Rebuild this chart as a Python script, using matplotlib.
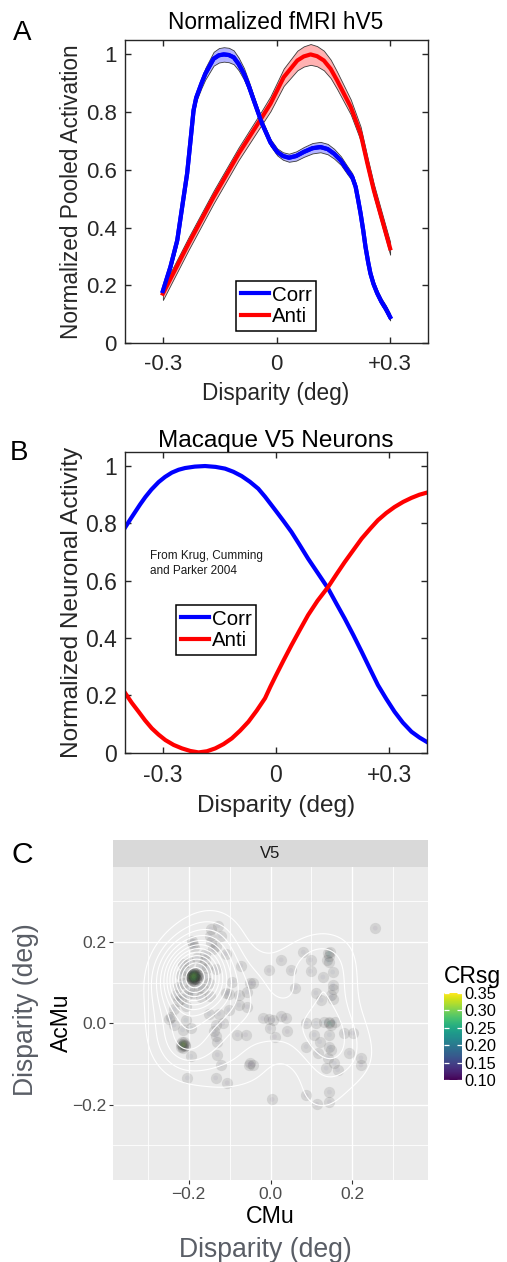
import numpy as np
import matplotlib
matplotlib.use("Agg")
import matplotlib.pyplot as plt
from matplotlib.cm import ScalarMappable
from matplotlib.colors import Normalize

plt.rcParams['font.family'] = ['Liberation Sans', 'DejaVu Sans']

# ---------------- Panel A data: Normalized fMRI hV5 ----------------
a_corr_x = [-0.30, -0.28, -0.262, -0.249, -0.236, -0.227, -0.219, -0.212, -0.205, -0.198,
            -0.188, -0.166, -0.152, -0.139, -0.126, -0.113, -0.10, -0.086, -0.073, -0.06,
            -0.038, -0.016, 0.002, 0.017, 0.033, 0.052, 0.072, 0.095, 0.116, 0.135,
            0.152, 0.17, 0.187, 0.20, 0.209, 0.215, 0.222, 0.229, 0.235, 0.242,
            0.248, 0.256, 0.266, 0.277, 0.288, 0.30]
a_corr_y = [0.18, 0.264, 0.356, 0.472, 0.587, 0.702, 0.806, 0.850, 0.875, 0.900,
            0.933, 0.985, 0.997, 1.0, 0.998, 0.99, 0.967, 0.933, 0.89, 0.841,
            0.76, 0.695, 0.662, 0.648, 0.642, 0.648, 0.662, 0.675, 0.679, 0.672,
            0.656, 0.632, 0.599, 0.575, 0.541, 0.50, 0.449, 0.39, 0.333, 0.28,
            0.241, 0.205, 0.172, 0.143, 0.12, 0.09]
a_corr_err = [0.012, 0.012, 0.012, 0.012, 0.012, 0.012, 0.012, 0.013, 0.014, 0.016,
              0.02, 0.024, 0.025, 0.025, 0.025, 0.024, 0.022, 0.02, 0.017, 0.015,
              0.013, 0.012, 0.012, 0.013, 0.014, 0.016, 0.017, 0.018, 0.018, 0.018,
              0.017, 0.015, 0.014, 0.013, 0.012, 0.012, 0.012, 0.012, 0.012, 0.012,
              0.012, 0.012, 0.012, 0.012, 0.012, 0.012]

a_anti_x = [-0.30, -0.232, -0.166, -0.10, -0.038, -0.016, 0.019, 0.055, 0.072, 0.09,
            0.107, 0.125, 0.143, 0.16, 0.196, 0.222, 0.24, 0.257, 0.279, 0.30]
a_anti_y = [0.171, 0.345, 0.506, 0.656, 0.783, 0.829, 0.921, 0.979, 0.993, 1.0,
            0.994, 0.979, 0.95, 0.91, 0.818, 0.726, 0.622, 0.529, 0.426, 0.328]
a_anti_err = [0.022, 0.022, 0.022, 0.022, 0.024, 0.026, 0.03, 0.034, 0.035, 0.036,
              0.035, 0.034, 0.032, 0.03, 0.026, 0.024, 0.023, 0.022, 0.022, 0.022]

# ---------------- Panel B data: Macaque V5 neurons ----------------
b_corr_x = [-0.399, -0.386, -0.373, -0.36, -0.346, -0.33, -0.311, -0.294, -0.276, -0.258,
            -0.241, -0.215, -0.188, -0.16, -0.135, -0.113, -0.091, -0.069, -0.047, -0.029,
            -0.011, 0.0, 0.02, 0.041, 0.063, 0.085, 0.11, 0.138, 0.16, 0.182,
            0.205, 0.227, 0.248, 0.270, 0.292, 0.314, 0.336, 0.359, 0.38, 0.399]
b_corr_y = [0.787, 0.814, 0.840, 0.866, 0.892, 0.918, 0.944, 0.962, 0.977, 0.987,
            0.993, 0.998, 1.0, 0.997, 0.991, 0.98, 0.965, 0.945, 0.921, 0.893,
            0.862, 0.843, 0.808, 0.770, 0.724, 0.677, 0.628, 0.573, 0.52, 0.468,
            0.41, 0.352, 0.295, 0.236, 0.188, 0.143, 0.105, 0.073, 0.053, 0.038]
b_anti_x = [-0.399, -0.382, -0.364, -0.347, -0.329, -0.311, -0.293, -0.271, -0.249, -0.227,
            -0.205, -0.183, -0.161, -0.139, -0.117, -0.095, -0.073, -0.051, -0.029, -0.015,
            0.0, 0.02, 0.041, 0.063, 0.085, 0.11, 0.138, 0.16, 0.182, 0.205,
            0.227, 0.25, 0.270, 0.292, 0.314, 0.337, 0.359, 0.38, 0.399]
b_anti_y = [0.207, 0.174, 0.143, 0.113, 0.085, 0.063, 0.044, 0.027, 0.015, 0.006,
            0.001, 0.005, 0.015, 0.030, 0.050, 0.077, 0.108, 0.147, 0.190, 0.23,
            0.27, 0.322, 0.375, 0.428, 0.480, 0.53, 0.578, 0.622, 0.665, 0.707,
            0.747, 0.782, 0.811, 0.836, 0.857, 0.875, 0.889, 0.90, 0.907]

# ---------------- Panel C data: V5 scatter (CMu, AcMu, CRsg) ----------------
c_cmu = [
    # left, upper
    -0.128, -0.146, -0.122, -0.191, -0.146, -0.134, -0.187, -0.159, -0.110, -0.149, -0.141, -0.190,
    -0.073, -0.004,
    # left dense core
    -0.188, -0.186, -0.190, -0.184, -0.192, -0.188, -0.188, -0.182, -0.194, -0.185, -0.191, -0.180,
    -0.196, -0.187, -0.189, -0.183, -0.193, -0.178, -0.198, -0.186, -0.190, -0.181, -0.195, -0.176,
    -0.184, -0.192, -0.188, -0.186, -0.190, -0.182, -0.194, -0.187,
    # around the left core
    -0.210, -0.170, -0.160, -0.215, -0.200, -0.175, -0.200, -0.165, -0.220, -0.155,
    -0.205, -0.180, -0.225, -0.150, -0.190, -0.215, -0.170, -0.225, -0.160, -0.235,
    # left, middle
    -0.133, -0.093, -0.049, -0.057, -0.077, -0.102, -0.108, -0.149, -0.057, -0.077, -0.102, -0.126,
    -0.150, -0.206, -0.220, -0.230,
    -0.244, -0.247, -0.236, -0.207, -0.117, -0.134, -0.138, -0.133, -0.081, -0.061, -0.215, -0.195,
    # left, lower core
    -0.214, -0.216, -0.212, -0.218, -0.210, -0.215, -0.211, -0.220, -0.208, -0.217,
    # left, lower
    -0.195, -0.130, -0.130, -0.122, -0.053, -0.049, -0.203, -0.134, -0.106,
    # middle
    -0.019, -0.004, 0.006, 0.026, 0.038, -0.002, 0.041, 0.010, -0.043, 0.004, -0.043,
    # right, upper
    0.256, 0.026, 0.080, 0.098, 0.141, 0.144, 0.146, 0.144, 0.138, 0.050, 0.098, 0.128, 0.152,
    0.061, 0.152, 0.152, 0.111, 0.124, 0.152, 0.148,
    # right core
    0.144, 0.142, 0.147, 0.130, 0.157,
    # right, lower
    0.087, 0.111, 0.107, 0.144, 0.180, 0.201, 0.087, 0.120, 0.144, 0.115, 0.148, 0.193,
    0.221, 0.221, 0.140, 0.156, 0.164, 0.136,
    # bottom
    0.087, 0.113, 0.144, 0.144,
]
c_acmu = [
    0.240, 0.232, 0.215, 0.203, 0.199, 0.191, 0.187, 0.171, 0.171, 0.214, 0.182, 0.194,
    0.142, 0.130,
    0.115, 0.117, 0.113, 0.112, 0.118, 0.120, 0.110, 0.116, 0.114, 0.121, 0.109, 0.119,
    0.111, 0.124, 0.106, 0.108, 0.122, 0.113, 0.117, 0.103, 0.127, 0.125, 0.105, 0.118,
    0.119, 0.111, 0.117, 0.113, 0.121, 0.110, 0.116, 0.108,
    0.130, 0.140, 0.115, 0.100, 0.085, 0.090, 0.150, 0.085, 0.120, 0.135,
    0.070, 0.160, 0.090, 0.100, 0.075, 0.145, 0.065, 0.055, 0.155, 0.035,
    0.133, 0.102, 0.099, 0.077, 0.069, 0.073, 0.075, 0.067, 0.041, 0.045, 0.033, 0.024,
    0.024, 0.042, 0.060, 0.070,
    0.016, 0.010, -0.004, 0.008, 0.000, -0.004, -0.020, -0.031, -0.028, -0.028, -0.016, -0.012,
    -0.053, -0.055, -0.051, -0.050, -0.056, -0.060, -0.047, -0.057, -0.052, -0.046,
    -0.081, -0.045, -0.077, -0.102, -0.102, -0.098, -0.134, -0.134, -0.146,
    0.012, 0.010, 0.008, 0.018, 0.012, -0.012, -0.020, -0.033, -0.102, -0.187, 0.098,
    0.234, 0.156, 0.175, 0.156, 0.172, 0.165, 0.175, 0.150, 0.155, 0.130, 0.128, 0.114, 0.126,
    0.088, 0.085, 0.095, 0.075, 0.057, 0.061, 0.070,
    0.000, 0.004, -0.003, 0.003, 0.004,
    0.000, 0.000, -0.028, -0.028, -0.024, -0.024, -0.057, -0.045, -0.057, -0.073, -0.065, -0.073,
    -0.085, -0.102, -0.085, -0.098, -0.114, -0.110,
    -0.177, -0.199, -0.169, -0.193,
]
c_crsg = [
    0.14, 0.13, 0.15, 0.16, 0.14, 0.15, 0.17, 0.14, 0.13, 0.15, 0.14, 0.16,
    0.13, 0.12,
    0.31, 0.29, 0.30, 0.28, 0.32, 0.27, 0.26, 0.30, 0.29, 0.31, 0.28, 0.27,
    0.30, 0.29, 0.28, 0.31, 0.27, 0.30, 0.29, 0.28, 0.26, 0.30, 0.29, 0.27,
    0.30, 0.29, 0.31, 0.28, 0.30, 0.27, 0.29, 0.30,
    0.18, 0.17, 0.16, 0.18, 0.17, 0.16, 0.15, 0.17, 0.18, 0.16,
    0.17, 0.15, 0.16, 0.17, 0.18, 0.15, 0.16, 0.17, 0.15, 0.16,
    0.15, 0.14, 0.13, 0.14, 0.15, 0.16, 0.14, 0.15, 0.13, 0.14, 0.15, 0.14,
    0.16, 0.18, 0.17, 0.16,
    0.17, 0.16, 0.15, 0.18, 0.13, 0.14, 0.15, 0.14, 0.13, 0.12, 0.17, 0.18,
    0.32, 0.30, 0.31, 0.29, 0.30, 0.28, 0.31, 0.29, 0.30, 0.28,
    0.16, 0.14, 0.13, 0.14, 0.12, 0.13, 0.15, 0.13, 0.12,
    0.13, 0.12, 0.14, 0.13, 0.12, 0.13, 0.12, 0.12, 0.11, 0.12, 0.13,
    0.12, 0.13, 0.14, 0.14, 0.24, 0.22, 0.23, 0.20, 0.18, 0.13, 0.14, 0.15, 0.17,
    0.13, 0.16, 0.15, 0.14, 0.15, 0.16, 0.15,
    0.26, 0.25, 0.24, 0.20, 0.19,
    0.15, 0.16, 0.15, 0.17, 0.14, 0.13, 0.14, 0.15, 0.16, 0.14, 0.16, 0.13,
    0.13, 0.12, 0.15, 0.15, 0.14, 0.15,
    0.12, 0.12, 0.14, 0.13,
]

# ---------------- figure ----------------
W, H = 507, 1262
fig = plt.figure(figsize=(W / 100, H / 100), dpi=100)


def fx(px):
    return px / W


def fy(py):
    return 1 - py / H


def add_ax(l, t, r, b):
    return fig.add_axes([fx(l), fy(b), (r - l) / W, (b - t) / H])


MATLAB_TXT = '#262626'


def matlab_style(ax, tick_fs):
    for s in ax.spines.values():
        s.set_linewidth(1.0)
        s.set_color(MATLAB_TXT)
    ax.tick_params(direction='in', length=4, width=1.0, top=True, right=True,
                   labelsize=tick_fs, color=MATLAB_TXT, labelcolor=MATLAB_TXT)
    ax.tick_params(axis='x', pad=8)
    ax.tick_params(axis='y', pad=6)
    ax.set_xlim(-0.4, 0.4)
    ax.set_ylim(0, 1.05)
    ax.set_xticks([-0.3, 0, 0.3])
    ax.set_xticklabels(['-0.3', '0', '+0.3'])
    ax.set_yticks([0, 0.2, 0.4, 0.6, 0.8, 1.0])
    ax.set_yticklabels(['0', '0.2', '0.4', '0.6', '0.8', '1'])


def matlab_legend(ax, handles, left, top):
    leg = ax.legend(handles=handles, loc='upper left', bbox_to_anchor=(fx(left), fy(top)),
                    bbox_transform=fig.transFigure, borderaxespad=0, fontsize=14.8,
                    fancybox=False, framealpha=1, edgecolor='black', handlelength=1.38,
                    handletextpad=0.15, borderpad=0.22, labelspacing=0.12)
    leg.get_frame().set_linewidth(1.1)
    return leg


# ---- Panel A ----
axA = add_ax(125, 40, 428, 343)
matlab_style(axA, 16)
ax_x = np.array(a_anti_x)
ay = np.array(a_anti_y)
ae = np.array(a_anti_err)
axA.fill_between(ax_x, ay - ae, ay + ae, facecolor=(1, 0, 0, 0.3), edgecolor='#3a3a3a', linewidth=0.6)
cx = np.array(a_corr_x)
cy = np.array(a_corr_y)
ce = np.array(a_corr_err)
axA.fill_between(cx, cy - ce, cy + ce, facecolor=(0, 0, 1, 0.3), edgecolor='#3a3a3a', linewidth=0.6)
lA1, = axA.plot(cx, cy, color='#0000ff', lw=3.0, label='Corr')
lA2, = axA.plot(ax_x, ay, color='#ff0000', lw=3.0, label='Anti')
axA.plot(cx, cy, color='#0000ff', lw=3.0)
matlab_legend(axA, [lA1, lA2], 236, 281)

fig.text(fx(276), fy(29.3), 'Normalized fMRI hV5', ha='center', va='baseline',
         fontsize=16.3, color='black')
fig.text(fx(78.3), fy(191.5), 'Normalized Pooled Activation', rotation=90,
         rotation_mode='anchor', ha='center', va='baseline', fontsize=16.3, color=MATLAB_TXT)
fig.text(fx(276), fy(400), 'Disparity (deg)', ha='center', va='baseline',
         fontsize=16.3, color=MATLAB_TXT)
fig.text(fx(12.7), fy(40), 'A', ha='left', va='baseline', fontsize=20, color='black')

# ---- Panel B ----
axB = add_ax(125, 451.7, 427, 752.7)
matlab_style(axB, 16.5)
lB1, = axB.plot(b_corr_x, b_corr_y, color='#0000ff', lw=3.0, label='Corr')
lB2, = axB.plot(b_anti_x, b_anti_y, color='#ff0000', lw=3.0, label='Anti')
matlab_legend(axB, [lB1, lB2], 176, 605)

fig.text(fx(150), fy(559.3), 'From Krug, Cumming', ha='left', va='baseline', fontsize=8.5, color='#1a1a1a')
fig.text(fx(150), fy(574), 'and Parker 2004', ha='left', va='baseline', fontsize=8.5, color='#1a1a1a')
fig.text(fx(276), fy(446.7), 'Macaque V5 Neurons', ha='center', va='baseline',
         fontsize=17.6, color='black')
fig.text(fx(78.3), fy(602.5), 'Normalized Neuronal Activity', rotation=90,
         rotation_mode='anchor', ha='center', va='baseline', fontsize=17.6, color=MATLAB_TXT)
fig.text(fx(276), fy(811.7), 'Disparity (deg)', ha='center', va='baseline',
         fontsize=17.6, color=MATLAB_TXT)
fig.text(fx(9.3), fy(460), 'B', ha='left', va='baseline', fontsize=20, color='black')

# ---- Panel C ----
lim = 0.385
axC = add_ax(113, 866.7, 428, 1180)
axC.set_facecolor('#ebebeb')
for s in axC.spines.values():
    s.set_visible(False)
axC.set_xlim(-lim, lim)
axC.set_ylim(-lim, lim)
axC.set_xticks([-0.2, 0.0, 0.2])
axC.set_xticklabels(['\u22120.2', '0.0', '0.2'])
axC.set_yticks([-0.2, 0.0, 0.2])
axC.set_yticklabels(['\u22120.2', '0.0', '0.2'])
axC.set_xticks([-0.3, -0.1, 0.1, 0.3], minor=True)
axC.set_yticks([-0.3, -0.1, 0.1, 0.3], minor=True)
axC.grid(True, which='major', color='white', lw=1.0)
axC.grid(True, which='minor', color='white', lw=0.6)
axC.set_axisbelow(True)
axC.tick_params(which='major', direction='out', length=3, width=0.8, color='#333333',
                labelsize=12.5, labelcolor='#4d4d4d', pad=2)
axC.tick_params(which='minor', length=0)

cmu = np.array(c_cmu)
acmu = np.array(c_acmu)
crsg = np.array(c_crsg)
axC.scatter(cmu, acmu, s=65, color='#333333', alpha=0.13, linewidths=0, zorder=2)
axC.scatter(cmu, acmu, c=crsg, cmap='viridis', vmin=0.1, vmax=0.35, s=12, alpha=0.05,
            linewidths=0, zorder=3)

# 2-D kernel density of the points, drawn as white contours
g = np.linspace(-lim, lim, 260)
GX, GY = np.meshgrid(g, g)
h = 0.05
dens = np.zeros_like(GX)
for xi, yi in zip(cmu, acmu):
    dens += np.exp(-((GX - xi) ** 2 + (GY - yi) ** 2) / (2 * h * h))
step = dens.max() / 13.0
levels = step * np.arange(1, 13)
axC.contour(GX, GY, dens, levels=levels, colors='white', linewidths=0.8, zorder=4)

# strip
axS = add_ax(113, 840, 428, 866.7)
axS.set_facecolor('#d9d9d9')
axS.set_xticks([])
axS.set_yticks([])
for s in axS.spines.values():
    s.set_visible(False)
axS.text(0.5, 0.5, 'V5', ha='center', va='center', fontsize=12, color='#1a1a1a',
         transform=axS.transAxes)

# colour bar
cax = add_ax(444, 993, 461.7, 1080)
sm = ScalarMappable(norm=Normalize(0.1, 0.35), cmap='viridis')
cb = fig.colorbar(sm, cax=cax, ticks=[0.10, 0.15, 0.20, 0.25, 0.30, 0.35])
cb.outline.set_visible(False)
cb.ax.set_yticklabels(['0.10', '0.15', '0.20', '0.25', '0.30', '0.35'])
cax.tick_params(axis='y', direction='in', length=3.5, width=0.9, color='white',
                left=True, right=True, labelleft=False, labelright=True,
                labelsize=11.8, labelcolor='black', pad=2)
fig.text(fx(444.3), fy(983.5), 'CRsg', ha='left', va='baseline', fontsize=16.5, color='black')

# labels
fig.text(fx(68.3), fy(1023), 'AcMu', rotation=90, rotation_mode='anchor', ha='center',
         va='baseline', fontsize=16.5, color='black')
fig.text(fx(33.3), fy(1010), 'Disparity (deg)', rotation=90, rotation_mode='anchor',
         ha='center', va='baseline', fontsize=19.2, color='#5a5e66')
fig.text(fx(270), fy(1223.3), 'CMu', ha='center', va='baseline', fontsize=16.7, color='black')
fig.text(fx(265), fy(1256.7), 'Disparity (deg)', ha='center', va='baseline', fontsize=19.2,
         color='#5a5e66')
fig.text(fx(11.7), fy(863.3), 'C', ha='left', va='baseline', fontsize=21.6, color='black')

fig.savefig('out.png', dpi=100)
